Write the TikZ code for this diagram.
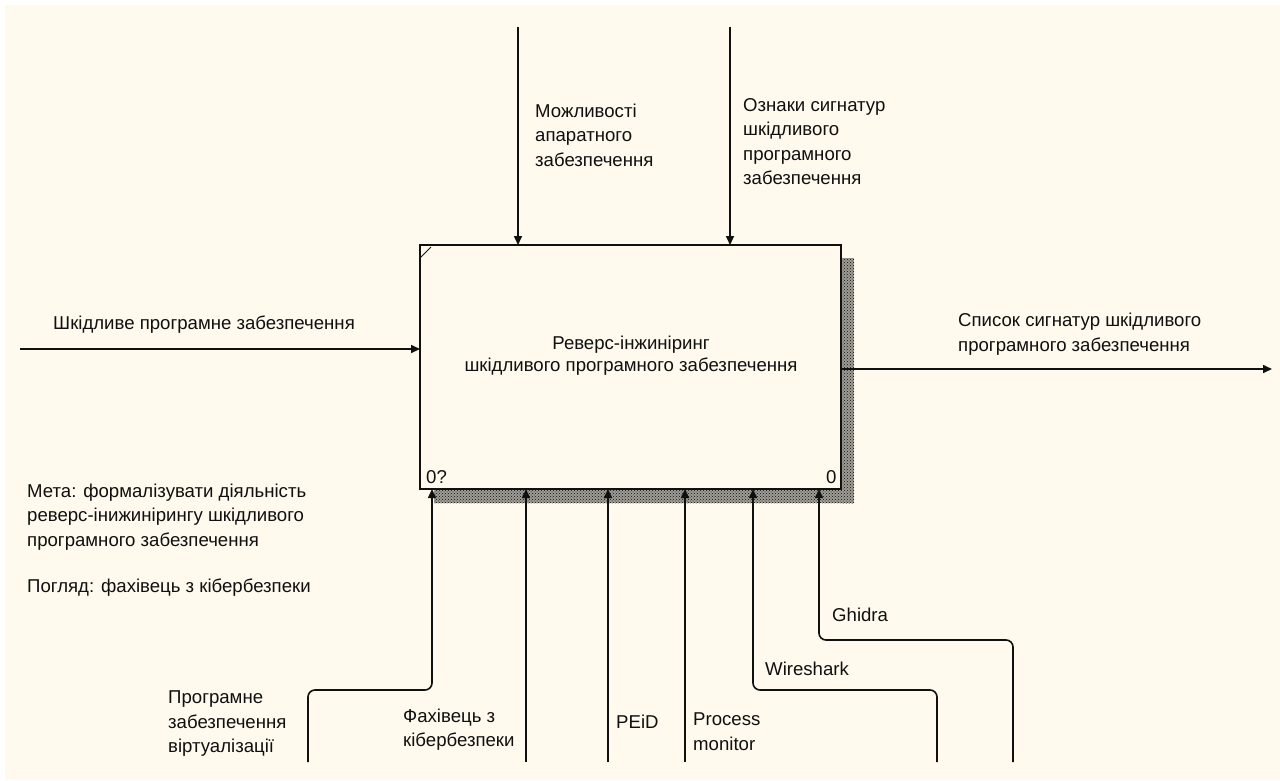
\documentclass[tikz,border=0pt]{standalone}
\usepackage{fontspec}
\setmainfont{Liberation Sans}
\usetikzlibrary{arrows.meta,patterns}
\definecolor{paper}{HTML}{FFF9EE}
\definecolor{ink}{HTML}{101010}
\tikzset{
  flow/.style={draw=ink, line width=1.6pt, -{Triangle[length=9pt,width=8pt]}, rounded corners=7pt},
  lbl/.style={inner sep=0pt, align=left, anchor=west, text=ink, font=\fontsize{18.6}{24.5}\selectfont},
  func/.style={draw=ink, line width=2pt, fill=paper, minimum width=421pt, minimum height=244pt, inner sep=0pt, outer sep=0pt},
  shade/.style={fill=ink!40!paper, postaction={pattern=crosshatch dots, pattern color=ink}},
}
\begin{document}
\begin{tikzpicture}[x=1pt,y=-1pt]
\useasboundingbox (0,0) rectangle (1280,780);
\fill [white] (0,0) rectangle (1280,780);
\fill [paper] (5,5) rectangle (1280,780);
\path [shade] (841,258) rectangle (854,503);
\path [shade] (434,489) rectangle (854,503);
\node (box) at (630.5,367) [func] {};
\draw [ink, line width=1pt] (421,257) -- (431,247);
\node (title) at (631,356) [lbl, anchor=center, align=center, font=\fontsize{18.6}{22}\selectfont] {Реверс-інжиніринг\\шкідливого програмного забезпечення};
\node (num) at (426,477) [lbl] {0?};
\node (node0) at (826,477) [lbl] {0};
\coordinate (c1) at (518,27);
\coordinate (c2) at (730,27);
\coordinate (in) at (20,349);
\coordinate (out) at (1272,369);
\coordinate (m1) at (308,762);
\coordinate (b1) at (432,690);
\coordinate (m2) at (526,762);
\coordinate (m3) at (608,762);
\coordinate (m4) at (685,762);
\coordinate (m5) at (937,762);
\coordinate (b5) at (753,690);
\coordinate (m6) at (1013,762);
\coordinate (b6) at (819,640);
\draw [flow] (c1) -- (c1 |- box.north);
\draw [flow] (c2) -- (c2 |- box.north);
\draw [flow] (in) -- (in -| box.west);
\draw [flow] (box.east |- out) -- (out);
\draw [flow] (m1) |- (b1) -- (b1 |- box.south);
\draw [flow] (m2) -- (m2 |- box.south);
\draw [flow] (m3) -- (m3 |- box.south);
\draw [flow] (m4) -- (m4 |- box.south);
\draw [flow] (m5) |- (b5) -- (b5 |- box.south);
\draw [flow] (m6) |- (b6) -- (b6 |- box.south);
\node (lmozh) at (535,135) [lbl] {Можливості\\апаратного\\забезпечення};
\node (loznak) at (743,141.5) [lbl] {Ознаки сигнатур\\шкідливого\\програмного\\забезпечення};
\node (lin) at (53,325) [lbl] {Шкідливе програмне забезпечення};
\node (lout) at (958,334) [lbl] {Список сигнатур шкідливого\\програмного забезпечення};
\node (lgoal) at (27,540) [lbl] {Мета: формалізувати діяльність\\реверс-інижинірингу шкідливого\\програмного забезпечення\\[21.5pt]Погляд: фахівець з кібербезпеки};
\node (lvirt) at (168,724) [lbl] {Програмне\\забезпечення\\віртуалізації};
\node (lfah) at (403,729.5) [lbl] {Фахівець з\\кібербезпеки};
\node (lpeid) at (616,722) [lbl] {PEiD};
\node (lproc) at (693,731.5) [lbl] {Process\\monitor};
\node (lwire) at (765,669) [lbl] {Wireshark};
\node (lghid) at (832,615) [lbl] {Ghidra};
\end{tikzpicture}
\end{document}
